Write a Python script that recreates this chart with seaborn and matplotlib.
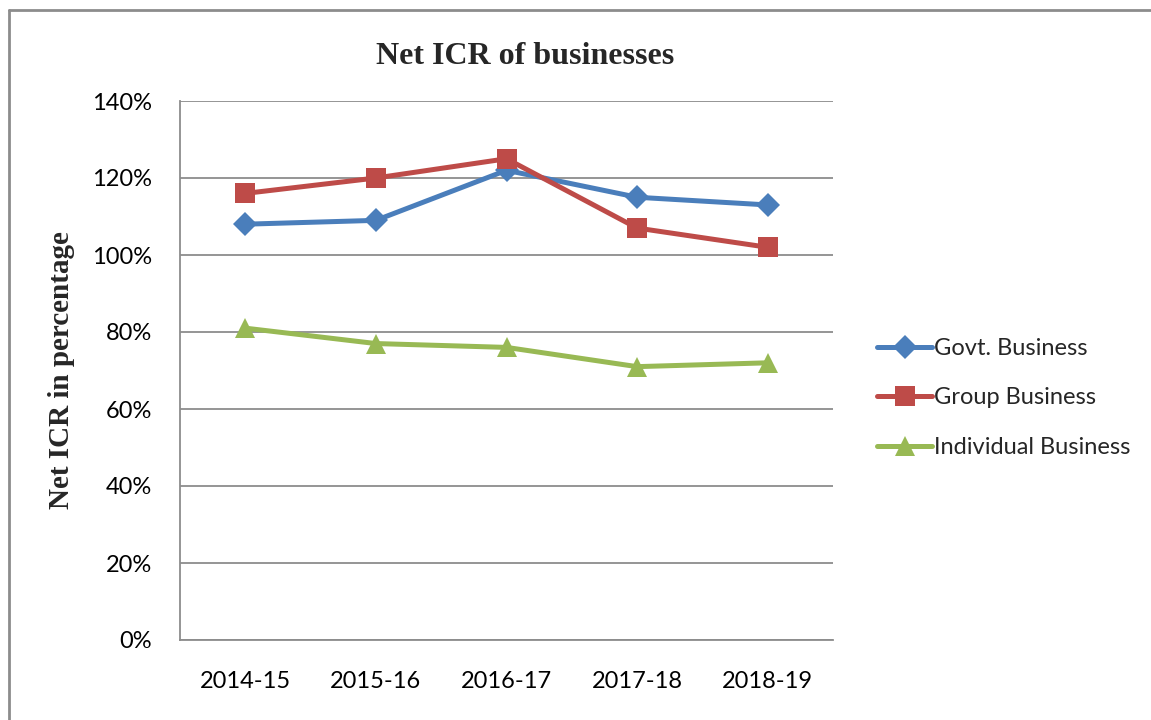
import pandas as pd
import numpy as np
import matplotlib.pyplot as plt
import seaborn as sns
from matplotlib.lines import Line2D
from matplotlib.ticker import PercentFormatter

# data
years = ['2014-15', '2015-16', '2016-17', '2017-18', '2018-19']
govt = [108, 109, 122, 115, 113]
group = [116, 120, 125, 107, 102]
individual = [81, 77, 76, 71, 72]

series_names = ['Govt. Business', 'Group Business', 'Individual Business']
series_vals = [govt, group, individual]
colors = ['#4A7EBB', '#BE4B48', '#98B954']
markers = ['D', 's', '^']
msizes = [12, 15, 15]

df = pd.DataFrame({
    'year': years * 3,
    'value': govt + group + individual,
    'series': np.repeat(series_names, len(years)),
})

sns.set_theme(style='white')
plt.rcParams['font.family'] = ['Lato', 'DejaVu Sans']

fig = plt.figure(figsize=(11.51, 7.2), dpi=100)
ax = fig.add_axes([180/1151, 80/720, 653/1151, 539/720])

for name, col, mk, ms in zip(series_names, colors, markers, msizes):
    sub = df[df['series'] == name]
    sns.lineplot(data=sub, x='year', y='value', ax=ax, color=col, linewidth=3.6,
                 marker=mk, markersize=ms, markeredgewidth=0, label=name, sort=False)

ax.set_xlim(-0.5, 4.5)
ax.set_ylim(0, 140)
ax.set_yticks(range(0, 141, 20))
ax.yaxis.set_major_formatter(PercentFormatter(decimals=0))
ax.grid(axis='y', color='#8c8c8c', linewidth=1.3)
ax.set_axisbelow(True)
for s in ['top', 'right']:
    ax.spines[s].set_visible(False)
for s in ['left', 'bottom']:
    ax.spines[s].set_color('#8c8c8c')
    ax.spines[s].set_linewidth(1.3)
ax.tick_params(axis='both', length=0, labelsize=17, colors='black')
ax.tick_params(axis='y', pad=20)
ax.tick_params(axis='x', pad=22)
ax.set_xlabel('')
ax.set_ylabel('')

fig.text(62/1151, 1 - 370/720, 'Net ICR in percentage', rotation=90, ha='center', va='center',
         fontsize=21, fontweight='bold', family=['Liberation Serif', 'DejaVu Serif'])
fig.text(525/1151, 1 - 57/720, 'Net ICR of businesses', ha='center', va='center',
         fontsize=23, fontweight='bold', family=['Liberation Serif', 'DejaVu Serif'])

handles = [Line2D([], [], color=c, linewidth=3.6, marker=m, markersize=ms, markeredgewidth=0)
           for c, m, ms in zip(colors, markers, msizes)]
ax.legend(handles, series_names, loc='center left', bbox_to_anchor=(868/1151, 1 - 398/720),
          bbox_transform=fig.transFigure, frameon=False, fontsize=17, handlelength=2.3,
          handletextpad=0.1, labelspacing=1.2, borderaxespad=0)

# outer chart border (top and left only visible)
fig.add_artist(Line2D([9/1151, 9/1151], [0, 1 - 10/720], transform=fig.transFigure,
                      color='#8c8c8c', linewidth=2))
fig.add_artist(Line2D([9/1151, 1], [1 - 10/720, 1 - 10/720], transform=fig.transFigure,
                      color='#8c8c8c', linewidth=2))

fig.savefig('out.png', dpi=100)
